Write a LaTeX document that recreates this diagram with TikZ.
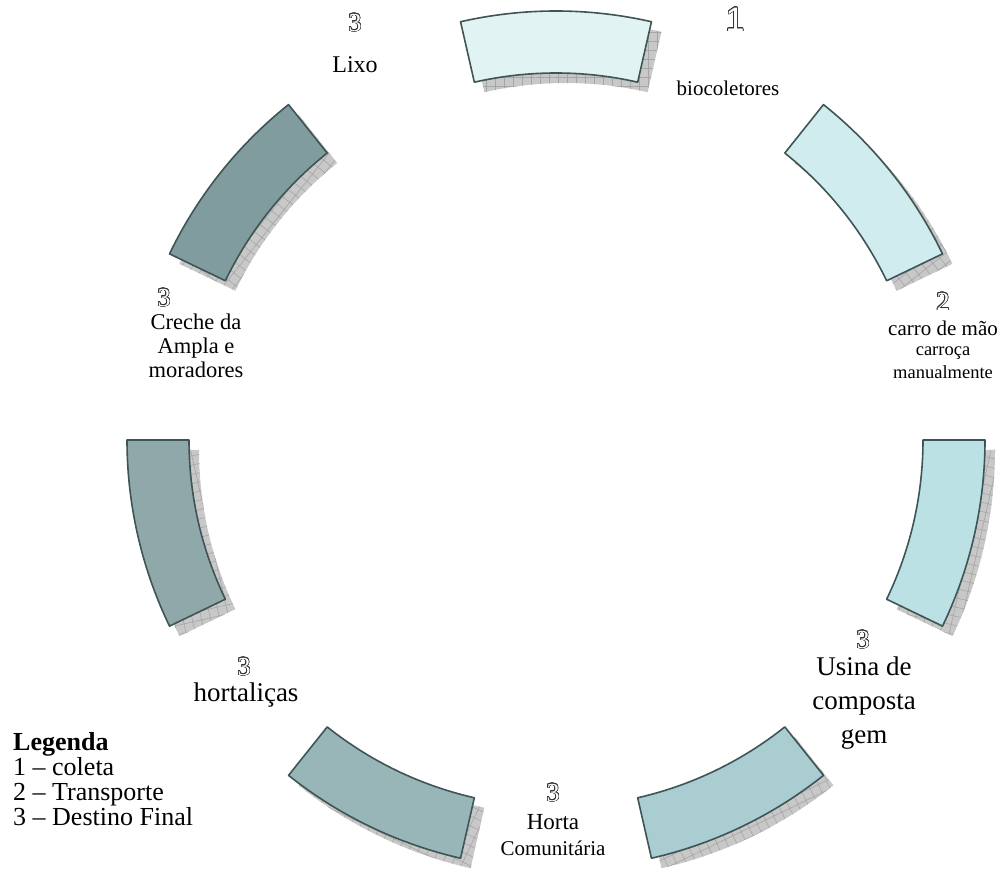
\documentclass[tikz,border=0pt]{standalone}
\usepackage{fontspec}
\setmainfont{Liberation Serif}
\newfontfamily\digsans{Liberation Sans}
\usepackage[copies]{contour}
\contourlength{0.6pt}
\contournumber{24}
\usetikzlibrary{patterns.meta}
\definecolor{cA}{RGB}{226,243,243}
\definecolor{cB}{RGB}{209,236,238}
\definecolor{cC}{RGB}{188,225,229}
\definecolor{cD}{RGB}{169,205,209}
\definecolor{cE}{RGB}{152,182,184}
\definecolor{cF}{RGB}{143,168,170}
\definecolor{cG}{RGB}{128,156,158}
\definecolor{segline}{RGB}{63,85,85}
\definecolor{shadowfill}{RGB}{200,200,200}
\definecolor{shadowline}{RGB}{165,165,165}
\newcommand{\odig}[1]{{\color{white}\contour{black!80}{#1}}}
\newcommand{\fsz}[2]{\fontsize{#1}{#2}\selectfont}
\tikzset{
  seg/.style={draw=segline, line width=1.6pt, line join=round},
  lab/.style={inner sep=0pt, align=center},
}
\begin{document}
\begin{tikzpicture}[x=1pt,y=1pt]
\useasboundingbox (0,0) rectangle (1002,869);
\begin{scope}[shift={(556,429)}]
\foreach \i/\c in {0/cA,1/cB,2/cC,3/cD,4/cE,5/cF,6/cG}{
  \pgfmathsetmacro\m{90-\i*360/7}
  \pgfmathsetmacro\a{\m-360/28}
  \pgfmathsetmacro\b{\m+360/28}
  \fill[shadowfill, shift={(10pt,-10pt)}] (\a:429pt) arc[start angle=\a, end angle=\b, radius=429pt] -- (\b:367pt) arc[start angle=\b, end angle=\a, radius=367pt] -- cycle;
  \fill[shift={(10pt,-10pt)}, pattern={Hatch[angle=\m, distance=9pt, line width=0.6pt]}, pattern color=shadowline] (\a:429pt) arc[start angle=\a, end angle=\b, radius=429pt] -- (\b:367pt) arc[start angle=\b, end angle=\a, radius=367pt] -- cycle;
  \draw[seg, fill=\c] (\a:429pt) arc[start angle=\a, end angle=\b, radius=429pt] -- (\b:367pt) arc[start angle=\b, end angle=\a, radius=367pt] -- cycle;
}
\end{scope}
% top-left: Lixo
\node[lab, font=\fsz{26}{28}] (dlixo) at (355,846) {\odig{3}};
\node[lab, font=\fsz{24}{26}] (tlixo) at (355,804) {Lixo};
% biocoletores
\node[lab, font=\digsans\fsz{34}{36}] (dbio) at (735,849) {\odig{1}};
\node[lab, font=\fsz{21}{23}] (tbio) at (728,781) {biocoletores};
% carro de mao
\node[lab, font=\fsz{26}{28}] (dcar) at (943,567) {\odig{2}};
\node[lab, font=\fsz{21}{23}] (tcar1) at (943,541) {carro de mão};
\node[lab, font=\fsz{18.5}{20}] (tcar2) at (943,516) {carroça};
\node[lab, font=\fsz{18.5}{20}] (tcar3) at (943,497) {manualmente};
% creche
\node[lab, font=\fsz{26}{28}] (dcre) at (164,571) {\odig{3}};
\node[lab, font=\fsz{22.5}{24}] (tcre) at (196,523) {Creche da\\Ampla e\\moradores};
% hortalicas
\node[lab, font=\fsz{26}{28}] (dhor) at (244,202) {\odig{3}};
\node[lab, font=\fsz{27}{29}] (thor) at (246,174) {hortaliças};
% usina
\node[lab, font=\fsz{26}{28}] (dusi) at (863,229) {\odig{3}};
\node[lab, font=\fsz{27}{34}] (tusi) at (864,166) {Usina de\\composta\\gem};
% horta
\node[lab, font=\fsz{26}{28}] (dhta) at (553,76) {\odig{3}};
\node[lab, font=\fsz{23}{25}] (thta1) at (553,47) {Horta};
\node[lab, font=\fsz{21}{23}] (thta2) at (553,21) {Comunitária};
% legend
\node[lab, align=left, anchor=north west, font=\fsz{26}{25}] (leg) at (13,137) {\textbf{Legenda}\\1 – coleta\\2 – Transporte\\3 – Destino Final};
\end{tikzpicture}
\end{document}
